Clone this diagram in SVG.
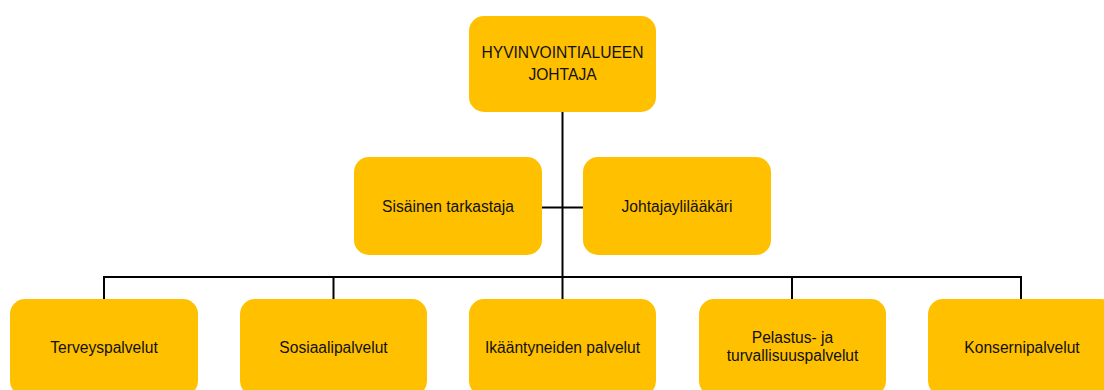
<svg xmlns="http://www.w3.org/2000/svg" width="1104" height="390" viewBox="0 0 1104 390">
  <style>
    .box { fill: #FFC000; }
    .lbl { font-family: "Liberation Sans", Arial, sans-serif; font-size: 15.6px; fill: #111; text-anchor: middle; }
    .wire { stroke: #000; stroke-width: 2; fill: none; }
  </style>
  <rect width="1104" height="390" fill="#fff"/>

  <!-- connectors -->
  <g id="connectors">
    <path class="wire" d="M562.5 112 V277"/>
    <path class="wire" d="M542 207.5 H583"/>
    <path class="wire" d="M104 299 V277 H1021 V299"/>
    <path class="wire" d="M333.5 277 V299"/>
    <path class="wire" d="M562.5 277 V299"/>
    <path class="wire" d="M792 277 V299"/>
  </g>

  <g id="johtaja">
    <rect class="box" x="469" y="16" width="187" height="96" rx="15"/>
    <text class="lbl" x="562.5" y="58">HYVINVOINTIALUEEN</text>
    <text class="lbl" x="562.5" y="80">JOHTAJA</text>
  </g>

  <g id="sisainen-tarkastaja">
    <rect class="box" x="354" y="157" width="188" height="98" rx="15"/>
    <text class="lbl" x="448" y="212">Sisäinen tarkastaja</text>
  </g>

  <g id="johtajaylilaakari">
    <rect class="box" x="583" y="157" width="188" height="98" rx="15"/>
    <text class="lbl" x="677" y="212">Johtajaylilääkäri</text>
  </g>

  <g id="terveyspalvelut">
    <rect class="box" x="10" y="299" width="188" height="97" rx="15"/>
    <text class="lbl" x="104" y="353">Terveyspalvelut</text>
  </g>

  <g id="sosiaalipalvelut">
    <rect class="box" x="240" y="299" width="187" height="97" rx="15"/>
    <text class="lbl" x="333.5" y="353">Sosiaalipalvelut</text>
  </g>

  <g id="ikaantyneiden-palvelut">
    <rect class="box" x="469" y="299" width="187" height="97" rx="15"/>
    <text class="lbl" x="562.5" y="353">Ikääntyneiden palvelut</text>
  </g>

  <g id="pelastus">
    <rect class="box" x="699" y="299" width="187" height="97" rx="15"/>
    <text class="lbl" x="792.5" y="343">Pelastus- ja</text>
    <text class="lbl" x="792.5" y="361">turvallisuuspalvelut</text>
  </g>

  <g id="konsernipalvelut">
    <rect class="box" x="928" y="299" width="188" height="97" rx="15"/>
    <text class="lbl" x="1022" y="353">Konsernipalvelut</text>
  </g>
</svg>
